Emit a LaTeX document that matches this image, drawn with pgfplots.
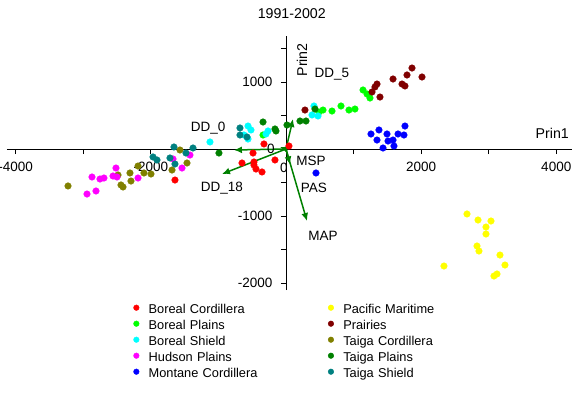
\documentclass[border=0pt]{standalone}
\usepackage{fontspec}
\setmainfont{Liberation Sans}
\usepackage{pgfplots}
\pgfplotsset{compat=1.18}
\usetikzlibrary{arrows.meta}
\definecolor{cBC}{HTML}{FF0000}
\definecolor{cBP}{HTML}{00FF00}
\definecolor{cBS}{HTML}{00FFFF}
\definecolor{cHP}{HTML}{FF00FF}
\definecolor{cMC}{HTML}{0000FF}
\definecolor{cPM}{HTML}{FFFF00}
\definecolor{cPR}{HTML}{800000}
\definecolor{cTC}{HTML}{808000}
\definecolor{cTP}{HTML}{008000}
\definecolor{cTS}{HTML}{008080}
\newcommand\ff{\fontsize{13.5}{16}\selectfont}
\newcommand\fl{\fontsize{12.8}{16}\selectfont}
\newcommand\ft{\fontsize{14.2}{17}\selectfont}
\begin{document}
\begin{tikzpicture}[font=\ff]
\useasboundingbox (0,0) rectangle (583pt,392pt);
\begin{axis}[
 at={(7pt,102pt)}, anchor=south west,
 scale only axis, width=565pt, height=254pt,
 xmin=-4129, xmax=4233, ymin=-2105, ymax=1687,
 axis lines=middle, axis line style={-, line width=0.8pt, black},
 tick align=outside, major tick length=5pt, tick style={black, line width=0.8pt},
 xtick={-4000,-3000,...,4000}, xticklabels={-4000,,-2000,,0,,2000,,4000},
 ytick={-2000,-1500,...,1500}, yticklabels={-2000,,-1000,,0,,1000,},
 every tick label/.append style={font=\ff},
 xticklabel style={yshift=-5pt},
 yticklabel style={xshift=-5pt},
 clip=false,
 title={1991-2002}, title style={font=\ft, at={(axis description cs:0.504,1.063)}, anchor=center, inner sep=0pt},
 xlabel={Prin1}, xlabel style={font=\ft, at={(axis description cs:0.9947,0.618)}, anchor=east, inner sep=0pt},
 ylabel={Prin2}, ylabel style={font=\ft, at={(axis description cs:0.522,0.906)}, anchor=center, inner sep=0pt, rotate=90},
 legend columns=2,
 legend cell align=left,
 legend style={font=\fl, draw=none, fill=none, at={(axis description cs:0.224,-0.05)}, anchor=north west,
   inner sep=0pt, outer sep=0pt, row sep=0pt, column sep=8pt,
   nodes={inner sep=1.5pt, text height=9.5pt, text depth=3.5pt, text width=170pt, align=left}},
 legend image code/.code={\draw[#1, mark size=2.8pt] plot coordinates {(0pt,3pt)};},
 pt/.style={only marks, mark=*, mark size=3.3pt, color=#1, fill=#1},
 arr/.style={forget plot, no marks, color=cTP, line width=1.5pt, -{Latex[length=8pt,width=7pt]}},
]
% Boreal Cordillera
\addplot[pt=cBC] coordinates {(-1643,-463) (-651,-209) (-488,-60) (-474,-194) (-474,-239) (-444,-299) (-355,-343) (-326,75) (-163,-164) (44,45)};
\addlegendentry{Boreal Cordillera}
% Pacific Maritime
\addplot[pt=cPM] coordinates {(2679,-970) (2842,-1060) (3034,-1075) (2960,-1165) (2960,-1269) (2827,-1448) (2856,-1523) (3167,-1583) (2338,-1747) (3241,-1732) (3123,-1866) (3078,-1896)};
\addlegendentry{Pacific Maritime}
% Boreal Plains
\addplot[pt=cBP] coordinates {(-340,209) (488,552) (548,582) (681,567) (814,642) (932,582) (1021,597) (1140,881) (1199,821) (1243,761)};
\addlegendentry{Boreal Plains}
% Prairies
\addplot[pt=cPR] coordinates {(1865,1209) (1791,1105) (2013,1075) (1584,1045) (1717,970) (1761,941) (1347,970) (1317,926) (1273,851) (1391,776) (281,582)};
\addlegendentry{Prairies}
% Boreal Shield
\addplot[pt=cBS] coordinates {(-1125,105) (-562,343) (-518,284) (-622,209) (-562,149) (-266,269) (-296,224) (414,642) (385,508) (474,493)};
\addlegendentry{Boreal Shield}
% Taiga Cordillera
\addplot[pt=cTC] coordinates {(-3226,-552) (-2486,-388) (-2442,-537) (-2412,-567) (-2294,-478) (-2309,-358) (-2190,-254) (-2102,-358) (-1998,-373) (-1687,-314) (-1569,-15) (-1465,-209)};
\addlegendentry{Taiga Cordillera}
% Hudson Plains
\addplot[pt=cHP] coordinates {(-2945,-672) (-2812,-627) (-2871,-418) (-2753,-448) (-2694,-433) (-2560,-403) (-2501,-418) (-2516,-284) (-2190,-433) (-1539,-284) (-1421,-90) (-1672,-149)};
\addlegendentry{Hudson Plains}
% Taiga Plains
\addplot[pt=cTP] coordinates {(-992,-60) (-340,403) (-163,299) (-148,269) (15,358) (207,418) (296,418) (429,597)};
\addlegendentry{Taiga Plains}
% Montane Cordillera
\addplot[pt=cMC] coordinates {(1761,343) (1258,224) (1376,284) (1495,224) (1347,134) (1510,119) (1584,134) (1658,224) (1746,209) (1436,15) (1598,45) (444,-358)};
\addlegendentry{Montane Cordillera}
% Taiga Shield
\addplot[pt=cTS] coordinates {(-1968,-119) (-1909,-164) (-1717,-134) (-1643,-224) (-1658,30) (-1480,-60) (-1376,15) (-681,314) (-681,209) (-577,179)};
\addlegendentry{Taiga Shield}
% loading vectors
\addplot[arr] coordinates {(0,0) (104,448)};
\addplot[arr] coordinates {(0,0) (-770,-15)};
\addplot[arr] coordinates {(0,0) (-947,-373)};
\addplot[arr] coordinates {(0,0) (311,-1075)};
\addplot[arr] coordinates {(0,0) (-90,30)};
\addplot[arr] coordinates {(0,0) (60,-230)};
\node at (axis cs:-1154,314) {DD\_0};
\node at (axis cs:681,1120) {DD\_5};
\node at (axis cs:-947,-582) {DD\_18};
\node at (axis cs:370,-179) {MSP};
\node at (axis cs:414,-582) {PAS};
\node at (axis cs:548,-1299) {MAP};
\node at (axis cs:-30,-285) {0};
\node at (axis cs:-222,0) {0};
\end{axis}
\end{tikzpicture}
\end{document}
